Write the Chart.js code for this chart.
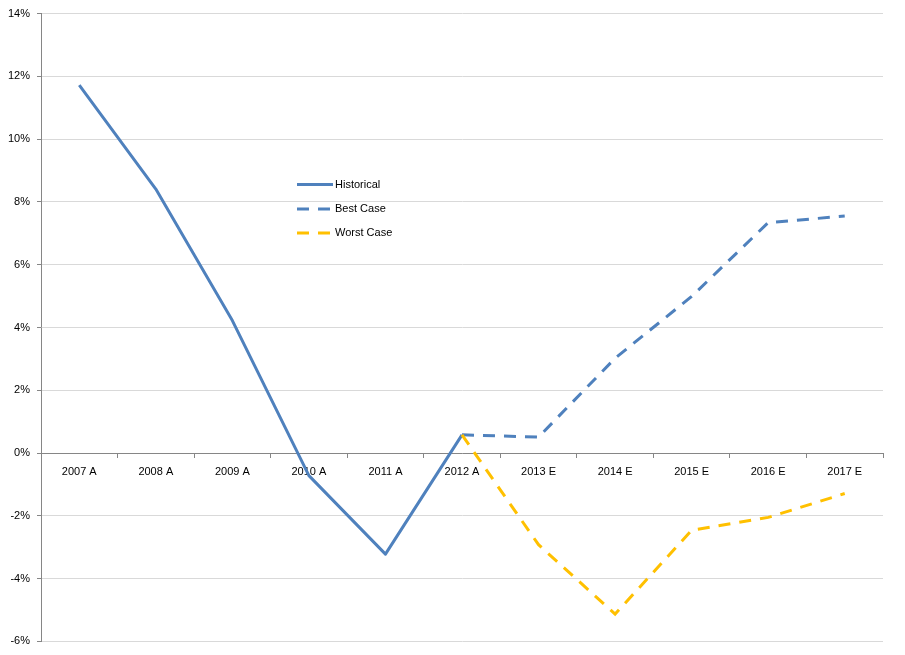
<!DOCTYPE html>
<html>
<head>
<meta charset="utf-8">
<script src="https://cdn.jsdelivr.net/npm/chart.js@4/dist/chart.umd.min.js"></script>
<style>
  html, body { margin: 0; padding: 0; background: #fff; }
  #wrap { position: relative; width: 905px; height: 655px; }
</style>
</head>
<body>
<div id="wrap"><canvas id="c" width="905" height="655"></canvas></div>
<script>
const categories = ['2007 A','2008 A','2009 A','2010 A','2011 A','2012 A','2013 E','2014 E','2015 E','2016 E','2017 E'];
const historical = [11.72, 8.41, 4.22, -0.72, -3.22, 0.58, null, null, null, null, null];
const bestCase   = [null, null, null, null, null, 0.58, 0.51, 3.02, 4.99, 7.34, 7.55];
const worstCase  = [null, null, null, null, null, 0.58, -2.92, -5.13, -2.46, -2.05, -1.29];
const yTicksMin = -6, yTicksMax = 14, yStep = 2;

const FONT = "'Liberation Sans', Arial, sans-serif";
const BLUE = '#4f81bd', GOLD = '#ffc000';

const legendPlugin = {
  id: 'innerLegend',
  afterDraw(chart) {
    const ctx = chart.ctx;
    const x0 = 297, x1 = 333, tx = 335;
    const ys = [184.5, 209, 233];
    const dsOrder = [0, 1, 2];
    ctx.save();
    ctx.font = '11px ' + FONT;
    ctx.textBaseline = 'middle';
    ctx.textAlign = 'left';
    dsOrder.forEach((i, k) => {
      const ds = chart.data.datasets[i];
      ctx.beginPath();
      ctx.strokeStyle = ds.borderColor;
      ctx.lineWidth = ds.borderWidth;
      ctx.lineCap = 'butt';
      ctx.setLineDash(ds.borderDash || []);
      ctx.moveTo(x0, ys[k]);
      ctx.lineTo(x1, ys[k]);
      ctx.stroke();
      ctx.setLineDash([]);
      ctx.fillStyle = '#000';
      ctx.fillText(ds.label, tx, ys[k]);
    });
    ctx.restore();
  }
};

new Chart(document.getElementById('c'), {
  type: 'line',
  data: {
    labels: categories,
    datasets: [
      { label: 'Historical', data: historical, borderColor: BLUE, borderWidth: 3, pointRadius: 0, tension: 0, borderJoinStyle: 'round', order: 2 },
      { label: 'Best Case', data: bestCase, borderColor: BLUE, borderWidth: 3, borderDash: [12, 9], pointRadius: 0, tension: 0, order: 1 },
      { label: 'Worst Case', data: worstCase, borderColor: GOLD, borderWidth: 3, borderDash: [12, 9], pointRadius: 0, tension: 0, order: 0 }
    ]
  },
  options: {
    responsive: false,
    animation: false,
    layout: { padding: { left: 0, right: 22, top: 8, bottom: 13 } },
    plugins: { legend: { display: false }, tooltip: { enabled: false } },
    scales: {
      x: {
        position: { y: 0 },
        offset: true,
        grid: { display: true, drawOnChartArea: false, drawTicks: true, tickLength: 4, offset: true, tickColor: '#868686', color: '#868686' },
        border: { display: true, color: '#868686', width: 1 },
        ticks: { font: { family: FONT, size: 11 }, color: '#000', padding: 8, maxRotation: 0, autoSkip: false }
      },
      y: {
        min: yTicksMin, max: yTicksMax,
        afterFit(scale) { scale.width = 41; },
        grid: { color: '#d9d9d9', tickLength: 4, tickColor: '#868686', lineWidth: 1 },
        border: { display: true, color: '#868686', width: 1 },
        ticks: { stepSize: yStep, font: { family: FONT, size: 11 }, color: '#000', padding: 7, callback: v => v + '%' }
      }
    }
  },
  plugins: [legendPlugin]
});
</script>
</body>
</html>
